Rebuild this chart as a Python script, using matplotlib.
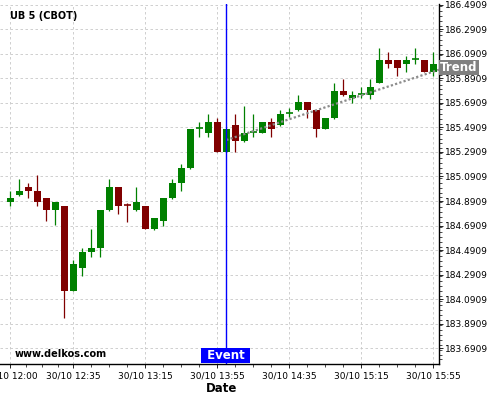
import numpy as np
import matplotlib
matplotlib.use("Agg")
import matplotlib.pyplot as plt
from matplotlib.ticker import FixedLocator, MultipleLocator, FormatStrFormatter
from matplotlib.transforms import blended_transform_factory

# 5-minute candles, 30/10
times = ["12:00", "12:05", "12:10", "12:15", "12:20", "12:25", "12:30", "12:35",
         "12:40", "12:45", "12:50", "12:55", "13:00", "13:05", "13:10", "13:15",
         "13:20", "13:25", "13:30", "13:35", "13:40", "13:45", "13:50", "13:55",
         "14:00", "14:05", "14:10", "14:15", "14:20", "14:25", "14:30", "14:35",
         "14:40", "14:45", "14:50", "14:55", "15:00", "15:05", "15:10", "15:15",
         "15:20", "15:25", "15:30", "15:35", "15:40", "15:45", "15:50", "15:55"]
opens = [184.8855, 184.9425, 185.0053, 184.9727, 184.9156, 184.8203, 184.8504, 184.1602,
         184.3476, 184.4780, 184.5106, 184.8178, 185.0053, 184.8561, 184.8203, 184.8504,
         184.6654, 184.7306, 184.9156, 185.0403, 185.1601, 185.4820, 185.4478, 185.5350,
         185.2930, 185.5105, 185.3826, 185.4520, 185.4453, 185.5350, 185.5105, 185.6045,
         185.6328, 185.6980, 185.6328, 185.4804, 185.5676, 185.7876, 185.7330, 185.7635,
         185.7550, 185.8528, 186.0402, 186.0402, 186.0093, 186.0445, 186.0402, 185.9441]
highs = [184.9702, 185.0680, 185.0354, 185.1031, 184.9156, 184.8830, 184.8504, 184.4104,
         184.5057, 184.6606, 184.8178, 185.0680, 185.0053, 184.8773, 185.0028, 184.8504,
         184.7527, 184.9156, 185.0705, 185.1927, 185.4779, 185.5325, 185.5977, 185.5651,
         185.4779, 185.5977, 185.6654, 185.6002, 185.5350, 185.5676, 185.6328, 185.6491,
         185.7526, 185.6980, 185.6328, 185.5676, 185.8504, 185.8830, 185.7876, 185.8178,
         185.8830, 186.1356, 186.1030, 186.0402, 186.0728, 186.1356, 186.0402, 186.1030]
lows = [184.8504, 184.9344, 184.9132, 184.8480, 184.7257, 184.6932, 183.9353, 184.1602,
        184.2824, 184.4373, 184.4373, 184.8121, 184.7828, 184.7225, 184.8121, 184.6654,
        184.6573, 184.6899, 184.9075, 184.9727, 185.1520, 185.4103, 185.4103, 185.2930,
        185.2930, 185.2905, 185.3744, 185.4087, 185.4453, 185.4087, 185.5024, 185.5757,
        185.6246, 185.5651, 185.4087, 185.4739, 185.5635, 185.7469, 185.6923, 185.7281,
        185.7257, 185.8504, 185.9710, 185.9139, 185.9425, 186.0076, 185.9441, 185.9139]
closes = [184.9156, 184.9727, 184.9751, 184.8855, 184.8203, 184.8830, 184.1602, 184.3778,
          184.4756, 184.5082, 184.8178, 185.0053, 184.8529, 184.8540, 184.8830, 184.6654,
          184.7527, 184.9156, 185.0379, 185.1601, 185.4779, 185.4836, 185.5350, 185.2930,
          185.4779, 185.3826, 185.4453, 185.4535, 185.5350, 185.4804, 185.6002, 185.6059,
          185.6980, 185.6328, 185.4804, 185.5676, 185.7876, 185.7550, 185.7550, 185.7648,
          185.8178, 186.0402, 186.0093, 185.9791, 186.0402, 186.0459, 185.9441, 186.0076]

tick_times = ["12:00", "12:35", "13:15", "13:55", "14:35", "15:15", "15:55"]
event_time = "14:00"
trend_start = 185.388
trend_end = 185.961
y_ticks = [183.6909, 183.8909, 184.0909, 184.2909, 184.4909, 184.6909,
           184.8909, 185.0909, 185.2909, 185.4909, 185.6909, 185.8909,
           186.0909, 186.2909, 186.4909]


def to_min(t):
    h, m = t.split(":")
    return (int(h) - 12) * 60 + int(m)


x = np.array([to_min(t) for t in times])
o = np.array(opens)
h = np.array(highs)
l = np.array(lows)
c = np.array(closes)

GREEN = "#008000"
RED = "#800000"

fig = plt.figure(figsize=(5, 4), dpi=100)
ax = fig.add_axes([0.0, 0.09, 0.878, 0.9])

xmin, xmax = -5.72, 238.2
ax.set_xlim(xmin, xmax)
ax.set_ylim(183.5629, 186.4966)

width = 3.8
colors = np.where(c >= o, GREEN, RED)
ax.vlines(x, l, h, colors=colors, linewidth=0.9, zorder=3)
body = np.abs(c - o)
big = body > 0.004
ax.bar(x[big], body[big], bottom=np.minimum(o, c)[big], width=width,
       color=colors[big], linewidth=0, zorder=4)
ax.hlines(((o + c) / 2)[~big], x[~big] - width / 2, x[~big] + width / 2,
          colors=colors[~big], linewidth=1.2, zorder=4)

# trend line from event to right edge
ev = to_min(event_time)
ax.plot([ev, xmax], [trend_start, trend_end], linestyle=(0, (1, 1)),
        color="#8c8c8c", linewidth=1.6, zorder=5, clip_on=False)

# event line
ax.axvline(ev, color="#0000ff", linewidth=1.0, zorder=6)

# axes style
for side in ["left", "top"]:
    ax.spines[side].set_visible(False)
ax.spines["right"].set_linewidth(1.0)
ax.spines["bottom"].set_linewidth(1.0)
ax.yaxis.tick_right()

major_x = [to_min(t) for t in tick_times]
minor_x = []
for a, b in zip(major_x[:-1], major_x[1:]):
    minor_x += [a + (b - a) * k / 4 for k in (1, 2, 3)]
ax.xaxis.set_major_locator(FixedLocator(major_x))
ax.xaxis.set_minor_locator(FixedLocator(minor_x))
ax.set_xticklabels(["30/10 " + t for t in tick_times])
ax.yaxis.set_major_locator(FixedLocator(y_ticks))
ax.yaxis.set_minor_locator(MultipleLocator(0.04))
ax.yaxis.set_major_formatter(FormatStrFormatter("%.4f"))

ax.tick_params(axis="both", which="major", length=3, width=0.6,
               labelsize=6.5, pad=1.5, colors="black")
ax.tick_params(axis="both", which="minor", length=1.8, width=0.5)
ax.tick_params(axis="x", which="major", pad=2.5)

ax.grid(True, which="major", linestyle=(0, (3, 3)), color="#c8c8c8", linewidth=0.6)
ax.set_axisbelow(True)

# labels
tr_y = blended_transform_factory(ax.transAxes, ax.transData)
ax.text(1.003, trend_end + 0.018, "Trend", transform=tr_y, ha="left", va="center",
        color="white", fontsize=8.5, fontweight="bold", clip_on=False, zorder=7,
        bbox=dict(boxstyle="square,pad=0.12", facecolor="#808080", edgecolor="none"))

tr_x = blended_transform_factory(ax.transData, ax.transAxes)
ax.text(ev - 0.4, 0.023, " Event ", transform=tr_x, ha="center", va="center",
        color="white", fontsize=8.5, fontweight="bold", zorder=7,
        bbox=dict(boxstyle="square,pad=0.1", facecolor="#0000ff", edgecolor="none"))

fig.text(10 / 500, 1 - 16 / 400, "UB 5 (CBOT)", fontsize=7, fontweight="bold",
         ha="left", va="center")
fig.text(15 / 500, 1 - 354 / 400, "www.delkos.com", fontsize=7, fontweight="bold",
         ha="left", va="center")
fig.text(222 / 500, 1 - 389 / 400, "Date", fontsize=8.5, fontweight="bold",
         ha="center", va="center")

fig.savefig("out.png", dpi=100)
